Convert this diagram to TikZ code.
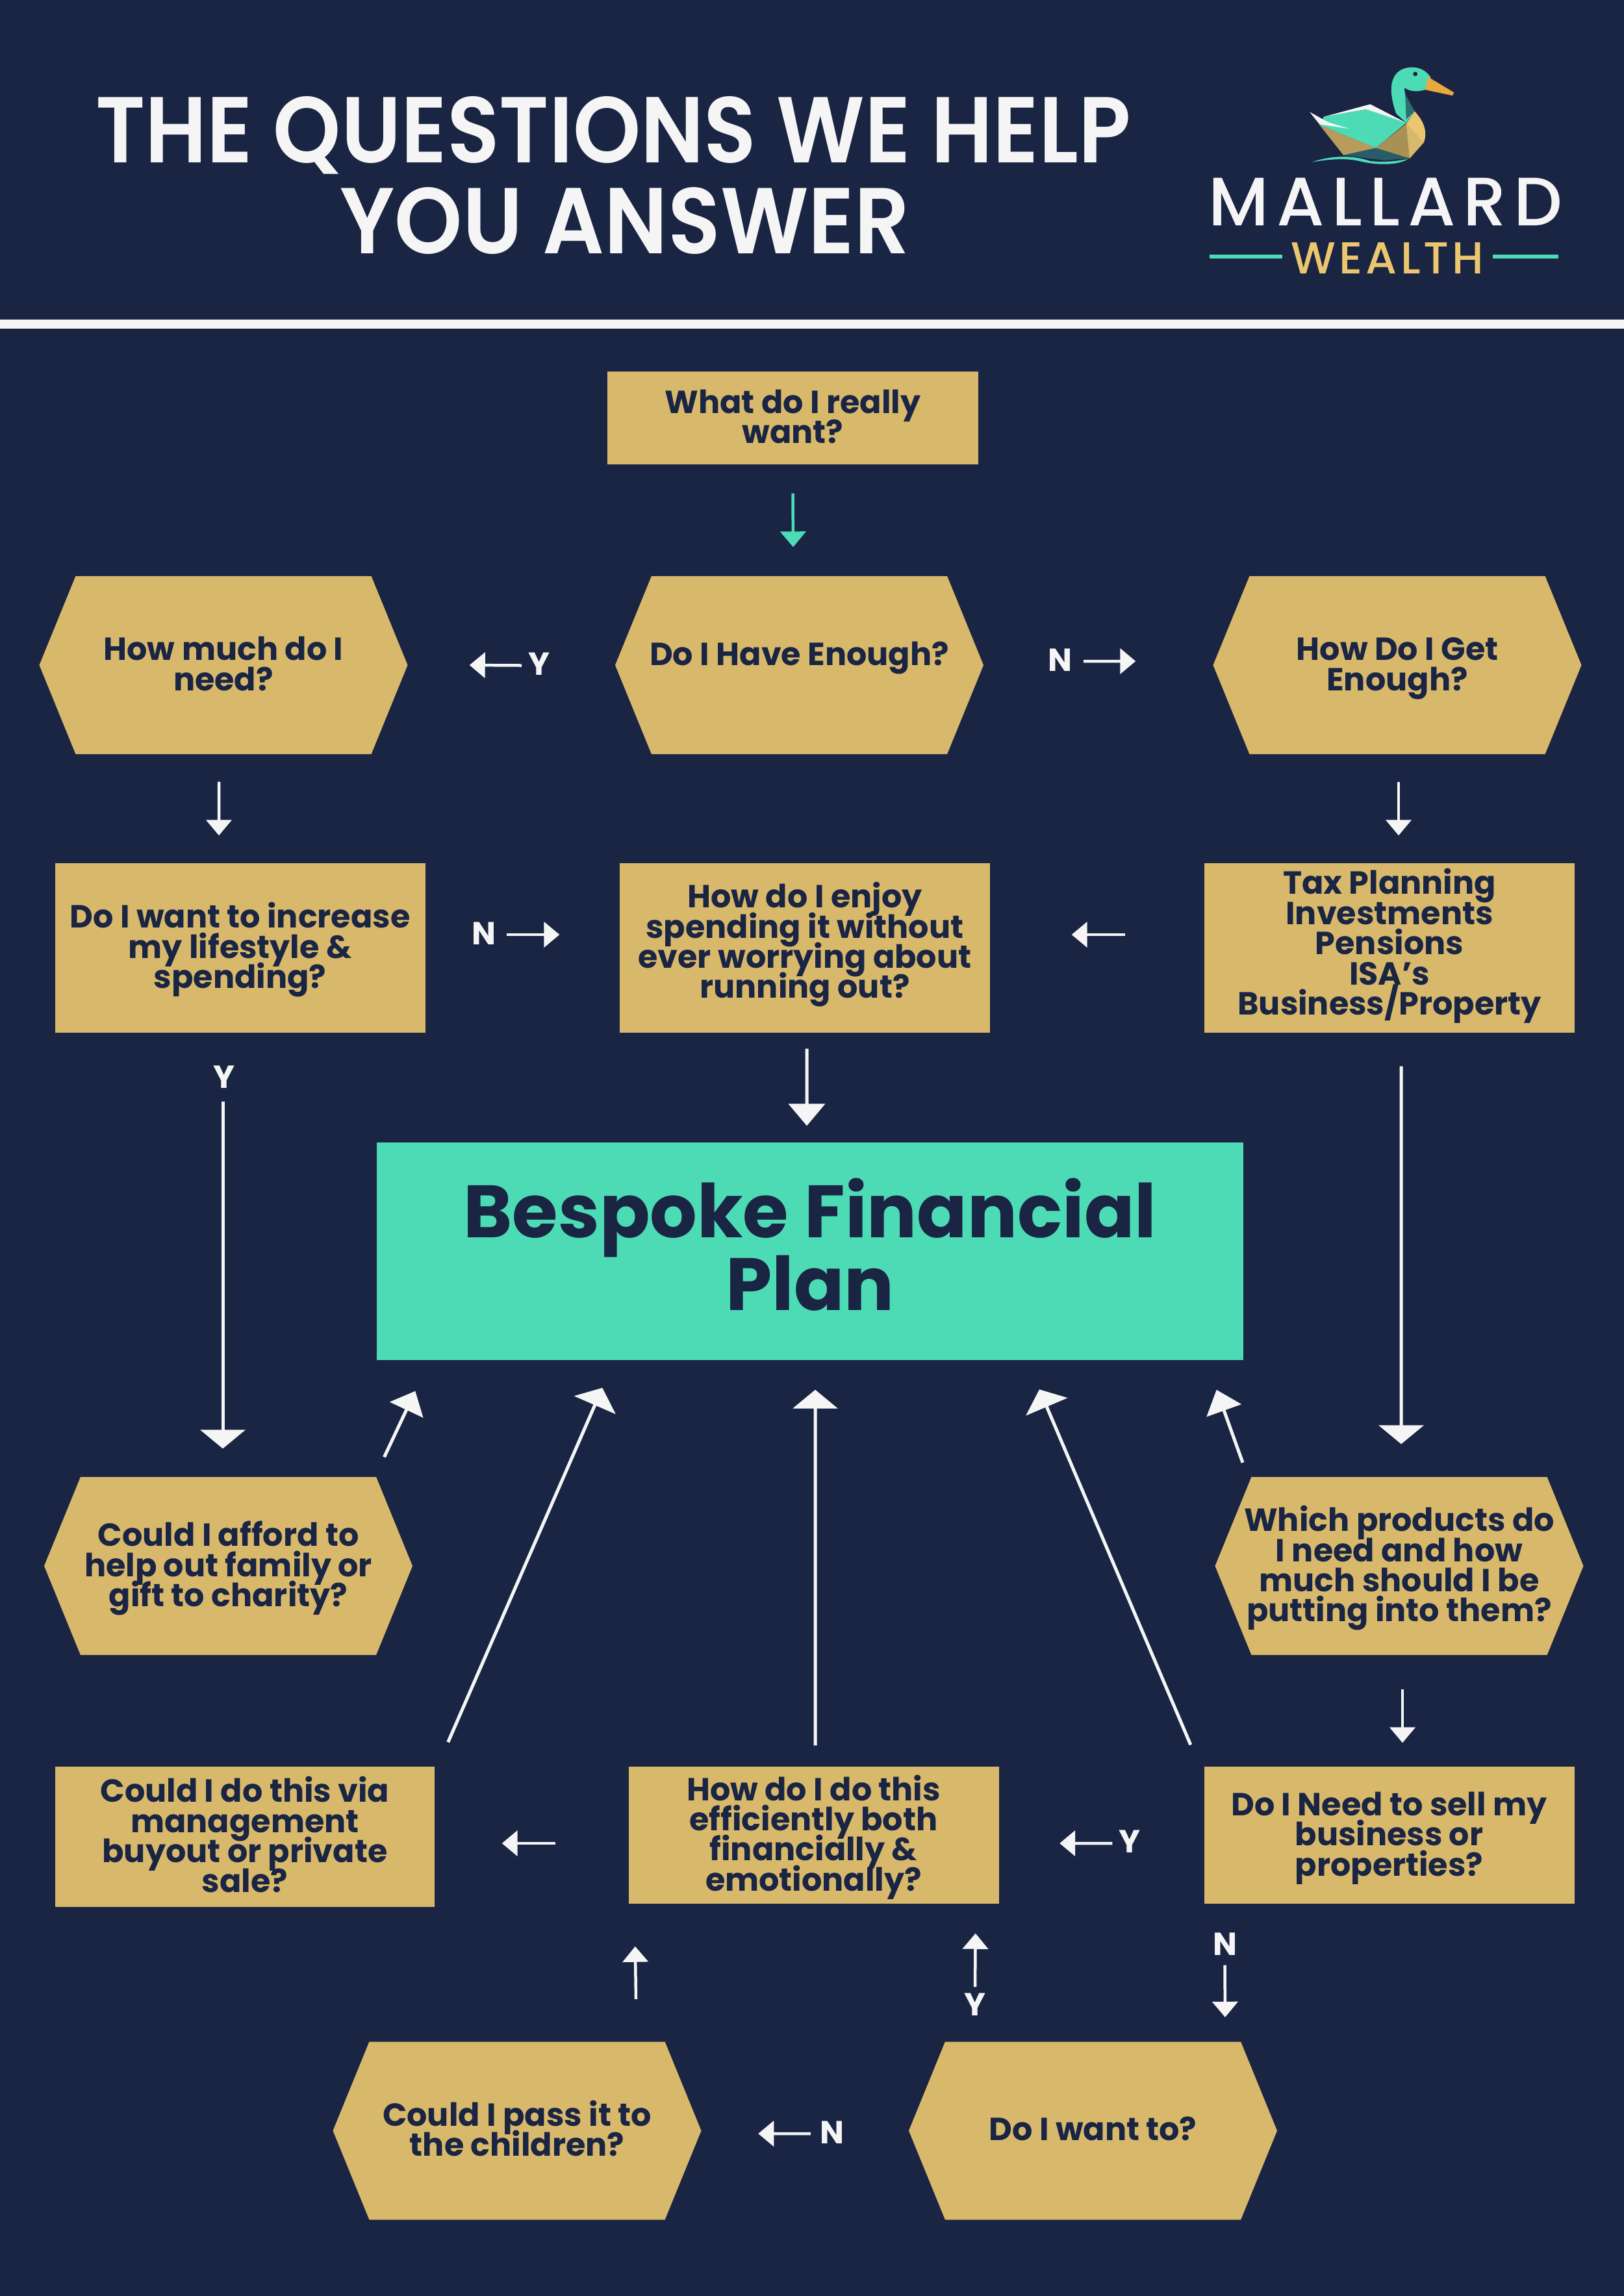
\documentclass[tikz,border=0pt]{standalone}
\usepackage{fontspec}
\usetikzlibrary{arrows.meta,shapes.symbols}
\newfontfamily\qfont{Poppins}
\newfontfamily\titlefont{Poppins SemiBold}[FakeStretch=0.92]
\newfontfamily\logofont{Poppins Medium}
\lineskiplimit=-100pt
\definecolor{navy}{HTML}{1A2544}
\definecolor{gold}{HTML}{D8B86B}
\definecolor{mint}{HTML}{4DDBB6}
\definecolor{chalk}{HTML}{F5F5F5}
\definecolor{beak}{HTML}{E9A93C}
\definecolor{sand}{HTML}{ECC66F}
\tikzset{
  question/.style={fill=gold, text=navy, align=center, inner sep=0pt,
    font=\qfont\bfseries\fontsize{14pt}{13.2pt}\selectfont,
    execute at begin node={\rule{0pt}{0.82cm}},
    execute at end node={\rule[-0.18cm]{0pt}{0.18cm}}},
  rectbox/.style={question, rectangle, minimum width=5.70cm, minimum height=#1},
  hexbox/.style={question, signal, signal to=west and east, signal pointer angle=135.6,
    inner xsep=-1cm, minimum width=5.67cm, minimum height=2.74cm},
  lift/.style={execute at end node={\rule[-#1]{0pt}{#1}}},
  rows/.style={execute at begin node={\rule{0pt}{\dimexpr#1\dimexpr0.465cm\relax+0.035cm\relax}}},
  answer/.style={text=chalk, inner sep=0pt, font=\qfont\bfseries\fontsize{14pt}{13.2pt}\selectfont},
  flow/.style={-{Triangle[length=0.24cm,width=0.39cm]}, chalk, line width=0.045cm},
  wideflow/.style={-{Triangle[length=0.29cm,width=0.69cm]}, chalk, line width=0.05cm},
  bigflow/.style={-{Triangle[length=#1,width=0.56cm]}, chalk, line width=0.05cm},
}

\begin{document}
\begin{tikzpicture}[x=1cm, y=-1cm]

  \useasboundingbox (0,0) rectangle (25,35.35);
  \fill[navy] (0,0) rectangle (25,35.35);

  %% Header
  \node[text=chalk, align=center, font=\titlefont\fontsize{41pt}{39.8pt}\selectfont] (title) at (9.44,2.70)
    {THE QUESTIONS WE HELP\\\hspace*{0.36cm}YOU ANSWER};
  \fill[chalk] (0,4.92) rectangle (25,5.06);

  %% Logo
  \begin{scope}[shift={(17.8,0.6)}, x=0.004337cm, y=-0.003333cm]
    % neck and head
    \fill[mint] (888,388) -- (852,345) .. controls (835,280) and (825,210) .. (850,165)
      .. controls (875,120) and (945,115) .. (975,178) -- (955,235)
      .. controls (930,245) and (900,245) .. (882,225) .. controls (880,260) and (895,300) .. (918,335) -- cycle;
    \fill[navy!60!mint] (884,255) -- (918,335) -- (888,372) -- cycle;
    \fill[beak] (966,176) -- (1058,248) -- (1052,262) -- (955,235) -- cycle;
    \fill[navy] (920,162) circle [x radius=8, y radius=10];
    % body
    \fill[mint] (595,360) -- (745,325) -- (888,388) -- (780,505) -- (580,398) -- cycle;
    \fill[chalk] (595,360) -- (760,302) -- (888,388) -- (745,325) -- cycle;
    \fill[chalk] (545,338) -- (580,395) -- (685,415) -- (610,385) -- cycle;
    \fill[gold!85!black] (580,398) -- (780,505) -- (665,538) -- cycle;
    \fill[gold!78!black] (888,392) -- (780,505) -- (900,553) -- (925,510) -- cycle;
    \fill[gold] (888,392) -- (950,480) -- (900,553) -- cycle;
    \fill[sand] (888,392) -- (918,335) .. controls (950,380) and (965,430) .. (950,480) -- cycle;
    % water
    \fill[navy!70!mint] (665,538) -- (780,505) -- (900,553) -- (810,562) -- cycle;
    \fill[mint] (552,570) .. controls (620,540) and (690,535) .. (760,565)
      .. controls (810,572) and (860,565) .. (895,555)
      .. controls (860,585) and (790,585) .. (730,568)
      .. controls (680,550) and (620,555) .. (552,570) -- cycle;
  \end{scope}
  \node[text=chalk, inner sep=0pt, font=\logofont\fontsize{30pt}{30pt}\selectfont\addfontfeature{LetterSpace=11}] (mallard) at (21.33,3.11) {MALLARD};
  \node[text=sand, inner sep=0pt, font=\logofont\fontsize{19.6pt}{20pt}\selectfont\addfontfeature{LetterSpace=7.5}] (wealth) at (21.36,3.975) {WEALTH};
  \fill[mint] (18.62,3.92) rectangle (19.74,3.98);
  \fill[mint] (22.98,3.92) rectangle (23.99,3.98);

  %% Top row
  \node[rectbox=1.43cm, minimum width=5.71cm, rows=2] (want) at (12.205,6.435) {What do I really\\want?};
  \node[hexbox, lift=0.81cm] (enough) at (12.305,10.24) {Do I Have Enough?};
  \node[hexbox, rows=2] (much) at (3.44,10.24) {How much do I\\need?};
  \node[hexbox, rows=2] (getmore) at (21.51,10.24) {How Do I Get\\Enough?};

  %% Second row
  \node[rectbox=2.61cm, rows=3] (increase) at (3.695,14.59) {Do I want to increase\\my lifestyle \&\\spending?};
  \node[rectbox=2.61cm, lift=0.23cm] (enjoy) at (12.39,14.59) {How do I enjoy\\spending it without\\ever worrying about\\running out?};
  \node[rectbox=2.61cm] (tax) at (21.39,14.59) {Tax Planning\\Investments\\Pensions\\ISA’s\\Business/Property};

  %% Centre
  \node[fill=mint, text=navy, align=center, inner sep=0pt, minimum width=13.34cm, minimum height=3.35cm, lift=0.22cm,
    font=\qfont\bfseries\fontsize{32.5pt}{31.9pt}\selectfont] (plan) at (12.47,19.265) {Bespoke Financial\\Plan};

  %% Lower rows
  \node[hexbox, rows=3] (afford) at (3.515,24.11) {Could I afford to\\help out family or\\gift to charity?};
  \node[hexbox, rows=4] (products) at (21.54,24.11) {Which products do\\I need and how\\much should I be\\putting into them?};
  \node[rectbox=2.16cm, minimum width=5.84cm, rows=4] (buyout) at (3.77,28.28) {Could I do this via\\management\\buyout or private\\sale?};
  \node[rectbox=2.11cm, rows=4] (efficient) at (12.525,28.255) {How do I do this\\efficiently both\\financially \&\\emotionally?};
  \node[rectbox=2.11cm, rows=3] (sell) at (21.385,28.255) {Do I Need to sell my\\business or\\properties?};
  \node[hexbox, rows=2] (children) at (7.96,32.805) {Could I pass it to\\the children?};
  \node[hexbox, lift=0.53cm] (wantto) at (16.825,32.805) {Do I want to?};

  %% Y and N
  \node[answer] (yhave) at (8.30,10.22) {Y};
  \node[answer] (nhave) at (16.32,10.16) {N};
  \node[answer] (nspend) at (7.45,14.37) {N};
  \node[answer] (yspend) at (3.45,16.58) {Y};
  \node[answer] (ysell) at (17.385,28.35) {Y};
  \node[answer] (ywant) at (15.01,30.86) {Y};
  \node[answer] (nsell) at (18.855,29.93) {N};
  \node[answer] (npass) at (12.81,32.83) {N};

  %% Arrows
  \draw[flow, mint] ([yshift=-0.44cm]want.south) -- ([xshift=-0.095cm,yshift=0.44cm]enough.north);
  \draw[flow] ([xshift=-0.10cm,yshift=-0.025cm]yhave.west) -- ([xshift=0.945cm]much.east);
  \draw[flow] ([xshift=0.17cm,yshift=-0.02cm]nhave.east) -- ([xshift=-1.185cm,yshift=0.06cm]getmore.west);
  \draw[flow] ([xshift=-0.07cm,yshift=-0.42cm]much.south) -- ([xshift=-0.325cm,yshift=0.415cm]increase.north);
  \draw[flow] ([xshift=0.02cm,yshift=-0.42cm]getmore.south) -- ([xshift=0.14cm,yshift=0.415cm]tax.north);
  \draw[flow] ([xshift=0.16cm,yshift=-0.02cm]nspend.east) -- ([xshift=-0.92cm,yshift=0.20cm]enjoy.west);
  \draw[flow] ([xshift=-1.21cm,yshift=0.20cm]tax.west) -- ([xshift=1.25cm,yshift=0.20cm]enjoy.east);
  \draw[bigflow=0.34cm] ([xshift=0.03cm,yshift=-0.245cm]enjoy.south) -- ([xshift=-0.05cm,yshift=0.25cm]plan.north);
  \draw[wideflow] ([xshift=-0.02cm,yshift=-0.195cm]yspend.south) -- ([xshift=-0.085cm,yshift=0.43cm]afford.north);
  \draw[wideflow] ([xshift=0.18cm,yshift=-0.515cm]tax.south) -- ([xshift=0.03cm,yshift=0.50cm]products.north);
  \draw[bigflow=0.32cm] ([xshift=2.40cm,yshift=0.30cm]afford.north) -- ([xshift=0.60cm,yshift=-0.47cm]plan.south west);
  \draw[wideflow] ([xshift=0.20cm,yshift=0.37cm]buyout.north east) -- ([xshift=3.48cm,yshift=-0.42cm]plan.south west);
  \draw[wideflow] ([xshift=0.025cm,yshift=0.32cm]efficient.north) -- ([xshift=0.08cm,yshift=-0.45cm]plan.south);
  \draw[wideflow] ([xshift=-0.20cm,yshift=0.33cm]sell.north west) -- ([xshift=3.53cm,yshift=-0.445cm]plan.south);
  \draw[bigflow=0.34cm] ([xshift=-2.41cm,yshift=0.215cm]products.north) -- ([xshift=-0.42cm,yshift=-0.45cm]plan.south east);
  \draw[flow] ([xshift=0.05cm,yshift=-0.52cm]products.south) -- ([xshift=0.205cm,yshift=0.36cm]sell.north);
  \draw[flow] ([xshift=-0.09cm,yshift=-0.03cm]ysell.west) -- ([xshift=0.93cm,yshift=-0.125cm]efficient.east);
  \draw[flow] ([xshift=-1.12cm,yshift=-0.125cm]efficient.west) -- ([xshift=1.03cm,yshift=-0.10cm]buyout.east);
  \draw[flow] ([xshift=1.83cm,yshift=0.65cm]children.north) -- ([xshift=0.11cm,yshift=-0.65cm]efficient.south west);
  \draw[flow] ([yshift=0.09cm]ywant.north) -- ([xshift=-0.365cm,yshift=-0.45cm]efficient.south east);
  \draw[flow] ([yshift=-0.145cm]nsell.south) -- ([xshift=2.035cm,yshift=0.37cm]wantto.north);
  \draw[flow] ([xshift=-0.14cm,yshift=-0.02cm]npass.west) -- ([xshift=0.87cm,yshift=-0.045cm]children.east);

\end{tikzpicture}
\end{document}
